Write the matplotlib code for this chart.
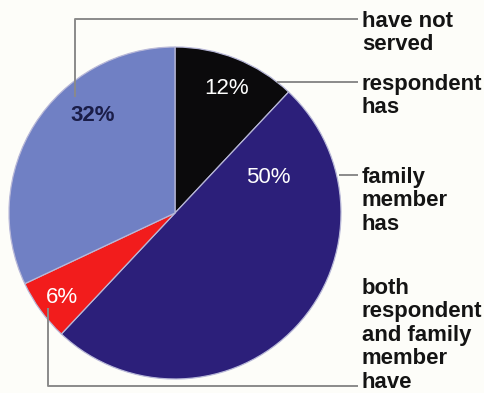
import matplotlib
matplotlib.use("Agg")
import matplotlib.pyplot as plt
import numpy as np

# Survey shares (percent), drawn clockwise from 12 o'clock
categories = ["respondent has", "family member has",
              "both respondent and family member have", "have not served"]
shares = [12, 50, 6, 32]
pct_labels = ["12%", "50%", "6%", "32%"]
slice_colors = ["#0b0a0c", "#2c1f7a", "#f21c1c", "#7080c4"]

# Legend-style labels at the right, one list entry per text line
side_labels = [
    ["have not", "served"],
    ["respondent", "has"],
    ["family", "member", "has"],
    ["both", "respondent", "and family", "member", "have"],
]

W, H = 485, 393
fig = plt.figure(figsize=(W / 100, H / 100), dpi=100, facecolor="#fdfdf9")
ax = fig.add_axes([0, 0, 1, 1])


def Y(y):
    # convert a top-down pixel row to the axis coordinate
    return H - y


cx, cy, R = 175, Y(213), 166
wedges, _ = ax.pie(shares, colors=slice_colors, startangle=90, counterclock=False,
                   center=(cx, cy), radius=R, frame=True,
                   wedgeprops=dict(linewidth=0.9, edgecolor="#b8b8d8"))
ax.set_xlim(0, W)
ax.set_ylim(0, H)
ax.set_aspect("equal")
ax.axis("off")

# percentage labels, polar placement (angle in degrees, radius fraction)
pct_pos = [(67.5, 0.81), (20.6, 0.60), (-143.0, 0.85), (130.0, 0.77)]
pct_style = [
    dict(color="white", fontweight="normal"),
    dict(color="white", fontweight="normal"),
    dict(color="white", fontweight="normal"),
    dict(color="#1a1d48", fontweight="bold"),
]
for txt, (ang, rf), st in zip(pct_labels, pct_pos, pct_style):
    a = np.deg2rad(ang)
    ax.text(cx + rf * R * np.cos(a), cy + rf * R * np.sin(a), txt,
            ha="center", va="center", fontsize=16,
            family="Liberation Sans", **st)

# leader lines
lc = dict(color="#8a8a8a", linewidth=1.4, solid_capstyle="butt")
ax.plot([75, 75, 358], [Y(97), Y(19), Y(19)], **lc)
ax.plot([277, 358], [Y(82), Y(82)], **lc)
ax.plot([339, 358], [Y(175), Y(175)], **lc)
ax.plot([48, 48, 358], [Y(308), Y(386), Y(386)], **lc)

# category text blocks
first_baseline = [27, 90, 183, 294]
line_step = 23.4
for lines, b0 in zip(side_labels, first_baseline):
    for i, ln in enumerate(lines):
        ax.text(362, Y(b0 + i * line_step), ln, ha="left", va="baseline",
                fontsize=15.9, fontweight="bold", color="#141414",
                family="Liberation Sans")

fig.savefig("out.png", dpi=100, facecolor=fig.get_facecolor())
